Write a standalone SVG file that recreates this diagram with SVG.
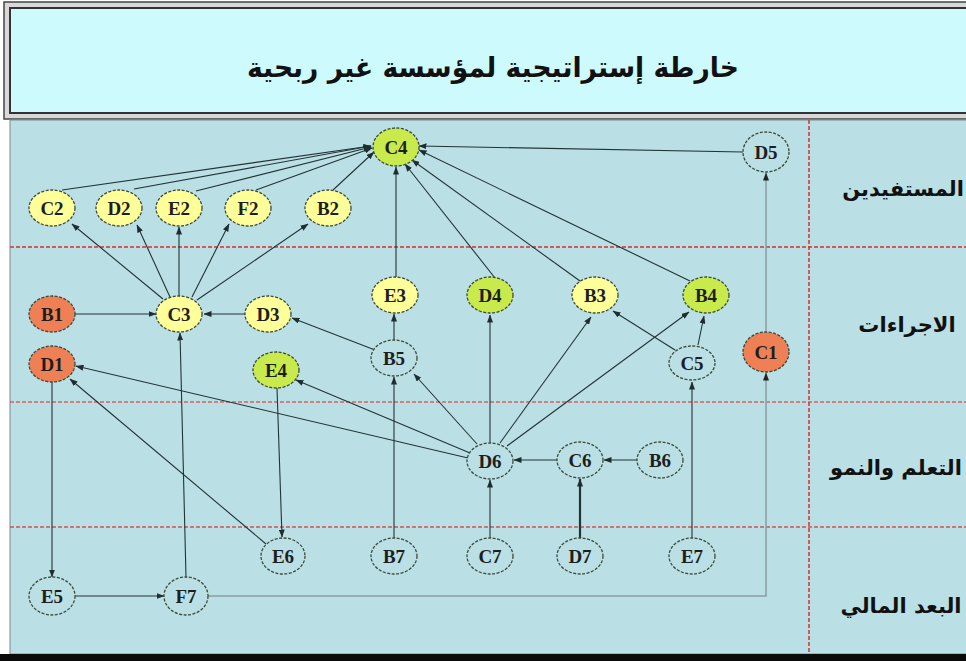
<svg xmlns="http://www.w3.org/2000/svg" width="966" height="661" viewBox="0 0 966 661">
<defs>
<marker id="ah" markerUnits="userSpaceOnUse" markerWidth="8" markerHeight="6" refX="7.5" refY="3" orient="auto">
<path d="M0,0 L8,3 L0,6 z" fill="#1e2e30"/>
</marker>
<marker id="ahg" markerUnits="userSpaceOnUse" markerWidth="8" markerHeight="6" refX="7.5" refY="3" orient="auto">
<path d="M0,0 L8,3 L0,6 z" fill="#222"/>
</marker>
</defs>
<style>
.n ellipse{stroke:#3c4a3a;stroke-width:1.3;stroke-dasharray:3 1.5}
.y{fill:#ffff99}
.g{fill:#c8ea4c}
.o{fill:#ef8055}
.w{fill:#badfe4}
.n text{font-family:"Liberation Serif",serif;font-weight:bold;font-size:19px;fill:#1e1e1e;text-anchor:middle}
.e path{fill:none;stroke:#223436;stroke-width:1.1;marker-end:url(#ah)}
.e path.gr{stroke:#8a9ea2;stroke-width:1.5;marker-end:url(#ahg)}
.e path.th{stroke-width:2.2}
.lbl{font-family:"DejaVu Sans",sans-serif;font-weight:bold;font-size:21px;fill:#111;text-anchor:middle}
.rd{stroke:#d83030;stroke-width:1.5;stroke-dasharray:4 2;fill:none}
</style>
<!-- title frame -->
<rect x="4" y="2" width="970" height="117" fill="#d8d8d8" stroke="#444" stroke-width="1.5"/>
<rect x="10" y="8" width="960" height="105" fill="#cdfbfd" stroke="#333" stroke-width="2"/>
<text x="493" y="77" font-family="DejaVu Sans,sans-serif" font-weight="bold" font-size="28" text-anchor="middle" fill="#111" textLength="492" lengthAdjust="spacingAndGlyphs">خارطة إستراتيجية لمؤسسة غير ربحية</text>
<!-- main panel -->
<rect x="10" y="120" width="960" height="534" fill="#badfe4" stroke="#7a8a8c" stroke-width="1"/>
<rect x="0" y="654" width="966" height="7" fill="#0a0a0a"/>
<line class="rd" x1="10" y1="247" x2="966" y2="247"/>
<line class="rd" x1="10" y1="402" x2="966" y2="402" opacity="0.7"/>
<line class="rd" x1="10" y1="527" x2="966" y2="527" opacity="0.8"/>
<line class="rd" x1="809" y1="120" x2="809" y2="654"/>
<text class="lbl" x="903" y="196">المستفيدين</text>
<text class="lbl" x="907" y="332">الاجراءات</text>
<text class="lbl" x="896" y="475">التعلم والنمو</text>
<text class="lbl" x="901" y="613">البعد المالي</text>
<g id="edges" class="e">
<path d="M62,190 L371,146"/>
<path d="M134,189 L371,146"/>
<path d="M196,191 L371,147"/>
<path d="M256,190 L372,148"/>
<path d="M333,190 L374,152"/>
<path d="M396,277 L396,167"/>
<path d="M495,278 L405,164"/>
<path d="M580,281 L412,160"/>
<path d="M690,281 L419,150"/>
<path d="M743,152 L419,146"/>
<path d="M163,299 L72,224"/>
<path d="M170,297 L137,225"/>
<path d="M179,296 L179,227"/>
<path d="M192,297 L229,224"/>
<path d="M197,300 L308,224"/>
<path d="M75,314 L156,314"/>
<path d="M245,314 L204,314"/>
<path d="M186,577 L180,333"/>
<path d="M375,350 L292,318"/>
<path d="M394,340 L394,314"/>
<path d="M468,458 L76,366"/>
<path d="M470,453 L296,380"/>
<path d="M477,444 L414,374"/>
<path d="M500,443 L591,317"/>
<path d="M507,446 L689,312"/>
<path d="M490,443 L490,315"/>
<path d="M557,460 L514,460"/>
<path d="M637,460 L604,460"/>
<path d="M490,538 L490,480"/>
<path class="th" d="M580,538 L580,479"/>
<path d="M692,538 L692,382"/>
<path d="M675,350 L613,311"/>
<path d="M698,345 L704,316"/>
<path d="M394,538 L394,377"/>
<path d="M277,388 L282,537"/>
<path d="M266,544 L70,379"/>
<path d="M52,382 L52,577"/>
<path d="M75,596 L164,596"/>
<path class="gr" d="M208,596 L766,596 L766,373"/>
<path class="gr" d="M766,332 L766,173"/>
</g>
<g id="C4" class="n"><ellipse class="g" cx="396" cy="147" rx="23" ry="19"/><text x="396" y="154">C4</text></g>
<g id="D5" class="n"><ellipse class="w" cx="766" cy="152" rx="23" ry="20"/><text x="766" y="159">D5</text></g>
<g id="C2" class="n"><ellipse class="y" cx="52" cy="208" rx="23" ry="18"/><text x="52" y="215">C2</text></g>
<g id="D2" class="n"><ellipse class="y" cx="119" cy="208" rx="23" ry="18"/><text x="119" y="215">D2</text></g>
<g id="E2" class="n"><ellipse class="y" cx="179" cy="208" rx="23" ry="18"/><text x="179" y="215">E2</text></g>
<g id="F2" class="n"><ellipse class="y" cx="248" cy="208" rx="23" ry="18"/><text x="248" y="215">F2</text></g>
<g id="B2" class="n"><ellipse class="y" cx="328" cy="208" rx="23" ry="18"/><text x="328" y="215">B2</text></g>
<g id="B1" class="n"><ellipse class="o" cx="52" cy="314" rx="23" ry="18"/><text x="52" y="321">B1</text></g>
<g id="C3" class="n"><ellipse class="y" cx="179" cy="314" rx="23" ry="18"/><text x="179" y="321">C3</text></g>
<g id="D3" class="n"><ellipse class="y" cx="268" cy="314" rx="23" ry="18"/><text x="268" y="321">D3</text></g>
<g id="E3" class="n"><ellipse class="y" cx="395" cy="295" rx="23" ry="18"/><text x="395" y="302">E3</text></g>
<g id="D4" class="n"><ellipse class="g" cx="490" cy="295" rx="23" ry="18"/><text x="490" y="302">D4</text></g>
<g id="B3" class="n"><ellipse class="y" cx="595" cy="295" rx="23" ry="18"/><text x="595" y="302">B3</text></g>
<g id="B4" class="n"><ellipse class="g" cx="706" cy="295" rx="23" ry="18"/><text x="706" y="302">B4</text></g>
<g id="D1" class="n"><ellipse class="o" cx="52" cy="364" rx="23" ry="18"/><text x="52" y="371">D1</text></g>
<g id="E4" class="n"><ellipse class="g" cx="276" cy="370" rx="23" ry="18"/><text x="276" y="377">E4</text></g>
<g id="B5" class="n"><ellipse class="w" cx="394" cy="358" rx="23" ry="18"/><text x="394" y="365">B5</text></g>
<g id="C5" class="n"><ellipse class="w" cx="692" cy="363" rx="23" ry="17"/><text x="692" y="370">C5</text></g>
<g id="C1" class="n"><ellipse class="o" cx="766" cy="352" rx="23" ry="20"/><text x="766" y="359">C1</text></g>
<g id="D6" class="n"><ellipse class="w" cx="490" cy="461" rx="23" ry="18"/><text x="490" y="468">D6</text></g>
<g id="C6" class="n"><ellipse class="w" cx="580" cy="460" rx="23" ry="18"/><text x="580" y="467">C6</text></g>
<g id="B6" class="n"><ellipse class="w" cx="660" cy="460" rx="23" ry="18"/><text x="660" y="467">B6</text></g>
<g id="E6" class="n"><ellipse class="w" cx="283" cy="556" rx="22" ry="18"/><text x="283" y="563">E6</text></g>
<g id="B7" class="n"><ellipse class="w" cx="394" cy="556" rx="23" ry="18"/><text x="394" y="563">B7</text></g>
<g id="C7" class="n"><ellipse class="w" cx="490" cy="556" rx="23" ry="18"/><text x="490" y="563">C7</text></g>
<g id="D7" class="n"><ellipse class="w" cx="580" cy="556" rx="23" ry="18"/><text x="580" y="563">D7</text></g>
<g id="E7" class="n"><ellipse class="w" cx="692" cy="556" rx="23" ry="18"/><text x="692" y="563">E7</text></g>
<g id="E5" class="n"><ellipse class="w" cx="52" cy="596" rx="23" ry="19"/><text x="52" y="603">E5</text></g>
<g id="F7" class="n"><ellipse class="w" cx="186" cy="596" rx="22" ry="19"/><text x="186" y="603">F7</text></g>
</svg>
